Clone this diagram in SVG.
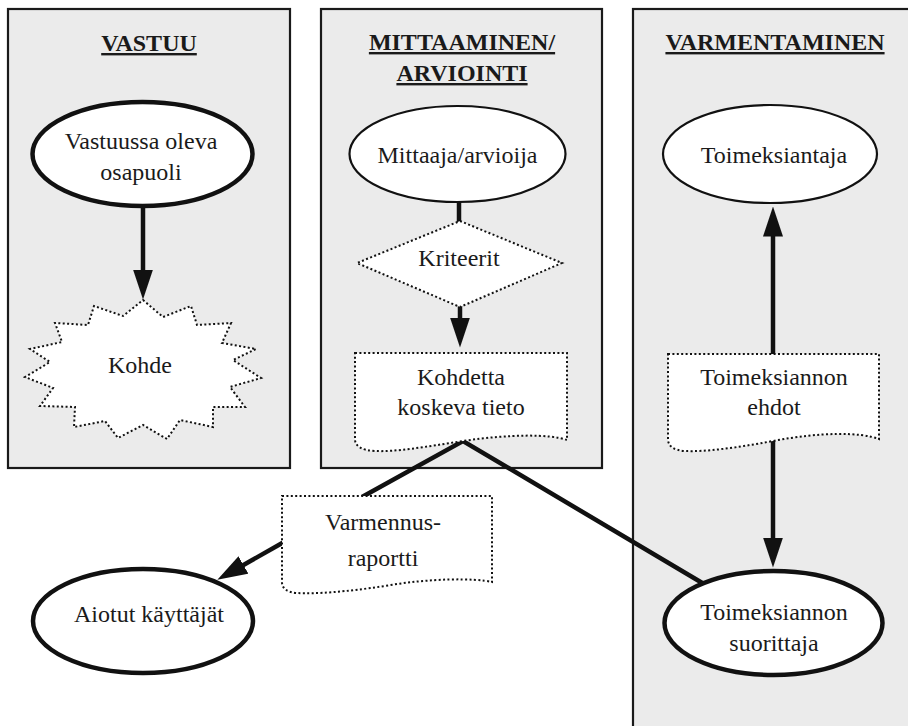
<svg xmlns="http://www.w3.org/2000/svg" width="908" height="726" viewBox="0 0 908 726">
<style>
.panel{fill:#ebebeb;stroke:#1a1a1a;stroke-width:2.2}
.title{font-family:'Liberation Serif','DejaVu Serif','Noto Serif',serif;font-size:24px;font-weight:bold;fill:#1a1a1a;text-anchor:middle;text-decoration:underline}
.lbl{font-family:'Liberation Serif','DejaVu Serif','Noto Serif',serif;font-size:24px;fill:#1a1a1a;text-anchor:middle}
.thick{fill:#fff;stroke:#111;stroke-width:4.5}
.thin{fill:#fff;stroke:#111;stroke-width:2.2}
.dot{fill:#fff;stroke:#111;stroke-width:2;stroke-dasharray:2 2.4}
.conn{fill:none;stroke:#111;stroke-width:4.5}
</style>
<defs>
<marker id="arrow" markerUnits="userSpaceOnUse" markerWidth="30" markerHeight="20" viewBox="0 0 30 20" refX="0.5" refY="10" orient="auto">
<path d="M0,0 L30,10 L0,20 Z" fill="#111"/>
</marker>
</defs>
<rect width="908" height="726" fill="#fff"/>
<g id="panel-vastuu">
<rect class="panel" x="8" y="9" width="282" height="459"/>
<text class="title" x="149" y="51">VASTUU</text>
</g>
<g id="panel-mittaaminen">
<rect class="panel" x="321" y="9" width="281" height="459"/>
<text class="title" x="462" y="50">MITTAAMINEN/</text>
<text class="title" x="462" y="81">ARVIOINTI</text>
</g>
<g id="panel-varmentaminen">
<rect class="panel" x="633" y="9" width="300" height="800"/>
<text class="title" x="775" y="50">VARMENTAMINEN</text>
</g>
<g id="connectors">
<line class="conn" x1="143" y1="206" x2="143" y2="270" marker-end="url(#arrow)"/>
<line class="conn" x1="459" y1="202" x2="459" y2="223"/>
<line class="conn" x1="460" y1="305" x2="460" y2="318" marker-end="url(#arrow)"/>
<line class="conn" x1="773" y1="356" x2="773" y2="236" marker-end="url(#arrow)"/>
<line class="conn" x1="773" y1="440" x2="773" y2="538" marker-end="url(#arrow)"/>
<polyline class="conn" points="362,497 463,441 704,584"/>
<line class="conn" x1="284" y1="542" x2="243" y2="565.2" marker-end="url(#arrow)"/>
</g>
<g id="node-vastuussa">
<ellipse class="thick" cx="142.5" cy="154" rx="110" ry="52"/>
<text class="lbl" x="141" y="149">Vastuussa oleva</text>
<text class="lbl" x="141" y="180">osapuoli</text>
</g>
<g id="node-kohde">
<polygon class="dot" points="143,300 163,317 191,306 197,325 231,323 222,343 256,349 233,360 261,378 230,387 245,407 213,407 213,427 180,420 167,439 143,425 118,438 105,421 74,427 75,407 40,406 53,388 25,377 50,362 30,349 62,342 55,323 88,325 94,306 123,316"/>
<text class="lbl" x="140" y="373">Kohde</text>
</g>
<g id="node-mittaaja">
<ellipse class="thin" cx="457.5" cy="154" rx="108" ry="48"/>
<text class="lbl" x="457.5" y="163">Mittaaja/arvioija</text>
</g>
<g id="node-kriteerit">
<polygon class="dot" points="460,221 562,263 460,307 357,263"/>
<text class="lbl" x="459" y="266">Kriteerit</text>
</g>
<g id="node-kohdetta">
<path class="dot" d="M355,353 H567 V440 C550,434 510,434 463,441 C425,447 395,452 375,451 Q356,450 355,440 Z"/>
<text class="lbl" x="461" y="385">Kohdetta</text>
<text class="lbl" x="461" y="415">koskeva tieto</text>
</g>
<g id="node-toimeksiantaja">
<ellipse class="thin" cx="770" cy="154" rx="107" ry="49"/>
<text class="lbl" x="774" y="163">Toimeksiantaja</text>
</g>
<g id="node-ehdot">
<path class="dot" d="M668,354 H879 V439 C860,432 820,432 773,441 C735,448 705,452 685,451 Q669,450 668,440 Z"/>
<text class="lbl" x="774" y="385">Toimeksiannon</text>
<text class="lbl" x="774" y="415">ehdot</text>
</g>
<g id="node-suorittaja">
<ellipse class="thick" cx="773.5" cy="623" rx="109" ry="52"/>
<text class="lbl" x="774" y="620">Toimeksiannon</text>
<text class="lbl" x="774" y="651">suorittaja</text>
</g>
<g id="node-raportti">
<path class="dot" d="M282,496 H492 V582 C475,578 430,578 385,586 C345,592 315,594 297,593 Q283,592 282,583 Z"/>
<text class="lbl" x="383" y="530">Varmennus-</text>
<text class="lbl" x="383" y="566">raportti</text>
</g>
<g id="node-aiotut">
<ellipse class="thick" cx="143" cy="621" rx="110" ry="52"/>
<text class="lbl" x="149" y="622">Aiotut käyttäjät</text>
</g>
</svg>
